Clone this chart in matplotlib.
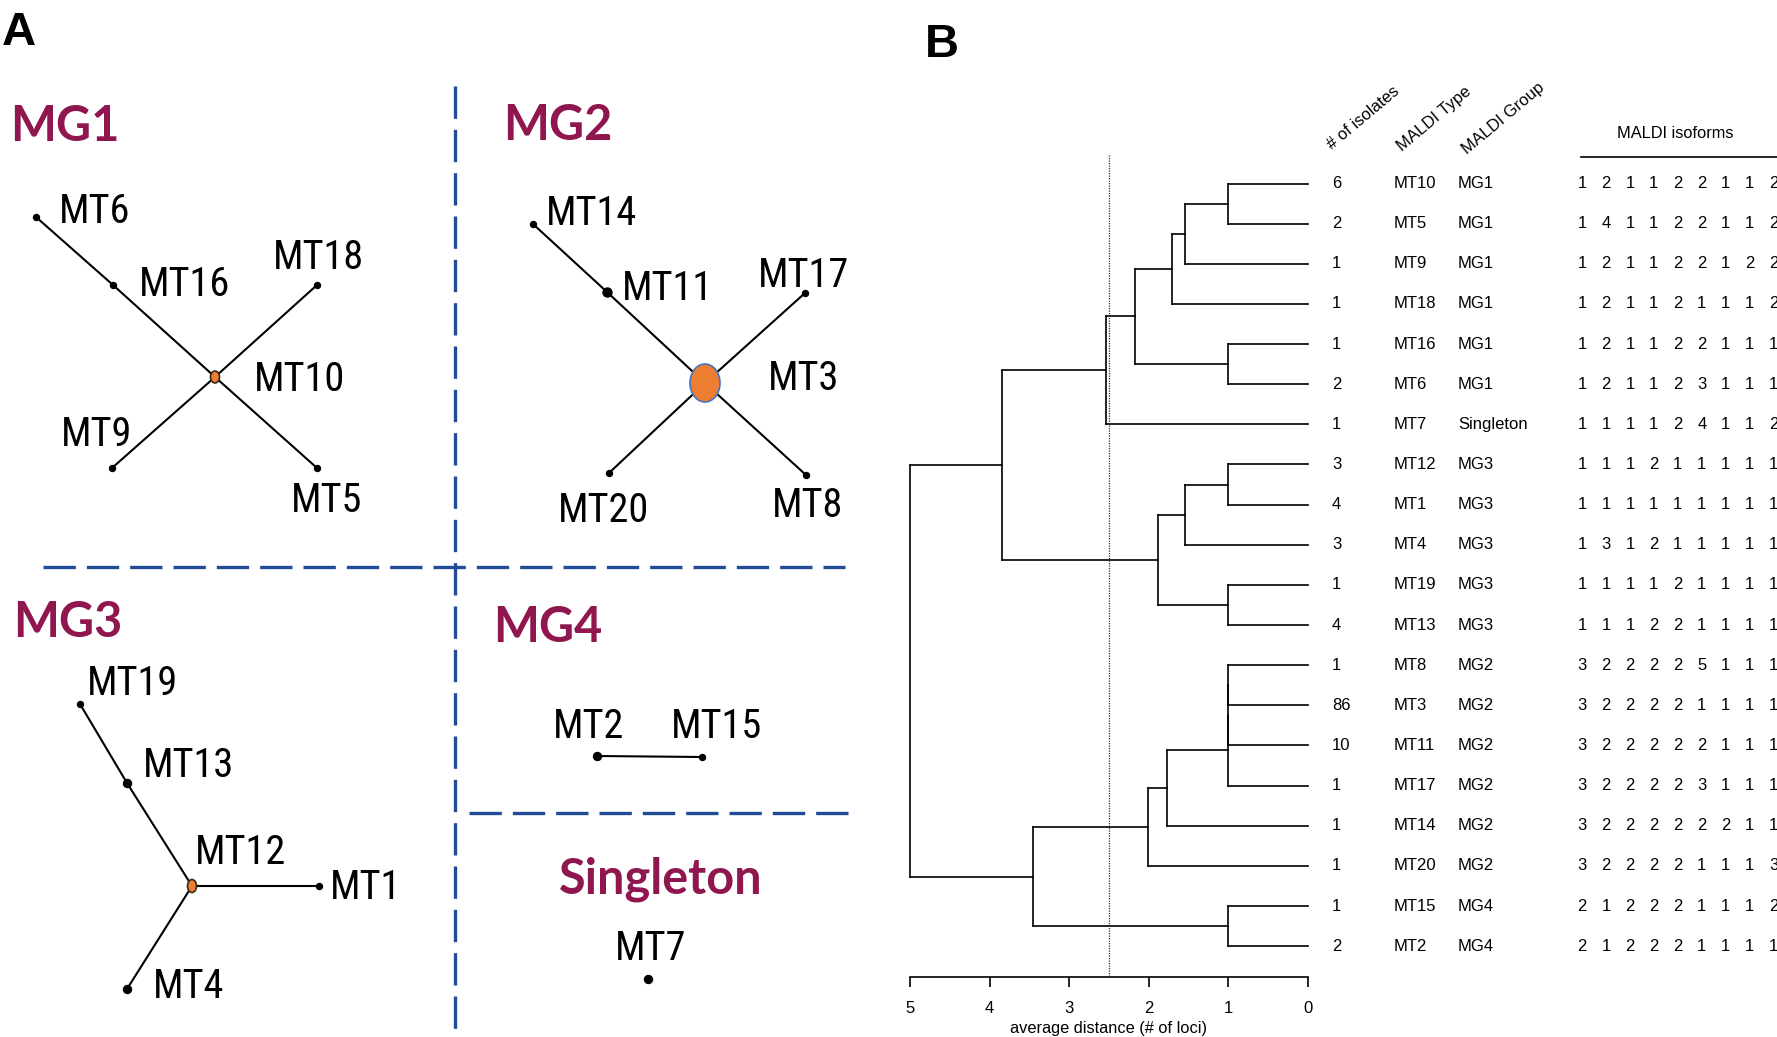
import numpy as np
import matplotlib.pyplot as plt
from matplotlib import font_manager
from matplotlib.patches import Ellipse
from matplotlib.transforms import blended_transform_factory

W, H = 1777, 1037

# ---------------- PANEL B DATA ----------------
leaves = ["MT10", "MT5", "MT9", "MT18", "MT16", "MT6", "MT7", "MT12", "MT1", "MT4",
          "MT19", "MT13", "MT8", "MT3", "MT11", "MT17", "MT14", "MT20", "MT15", "MT2"]
n_isolates = [6, 2, 1, 1, 1, 2, 1, 3, 4, 3, 1, 4, 1, 86, 10, 1, 1, 1, 1, 2]
maldi_group = ["MG1"] * 6 + ["Singleton"] + ["MG3"] * 5 + ["MG2"] * 6 + ["MG4"] * 2
isoforms = [
    [1, 2, 1, 1, 2, 2, 1, 1, 2],
    [1, 4, 1, 1, 2, 2, 1, 1, 2],
    [1, 2, 1, 1, 2, 2, 1, 2, 2],
    [1, 2, 1, 1, 2, 1, 1, 1, 2],
    [1, 2, 1, 1, 2, 2, 1, 1, 1],
    [1, 2, 1, 1, 2, 3, 1, 1, 1],
    [1, 1, 1, 1, 2, 4, 1, 1, 2],
    [1, 1, 1, 2, 1, 1, 1, 1, 1],
    [1, 1, 1, 1, 1, 1, 1, 1, 1],
    [1, 3, 1, 2, 1, 1, 1, 1, 1],
    [1, 1, 1, 1, 2, 1, 1, 1, 1],
    [1, 1, 1, 2, 2, 1, 1, 1, 1],
    [3, 2, 2, 2, 2, 5, 1, 1, 1],
    [3, 2, 2, 2, 2, 1, 1, 1, 1],
    [3, 2, 2, 2, 2, 2, 1, 1, 1],
    [3, 2, 2, 2, 2, 3, 1, 1, 1],
    [3, 2, 2, 2, 2, 2, 2, 1, 1],
    [3, 2, 2, 2, 2, 1, 1, 1, 3],
    [2, 1, 2, 2, 2, 1, 1, 1, 2],
    [2, 1, 2, 2, 2, 1, 1, 1, 1],
]
# merges (a, b, height); ids 0-19 are leaves, 20+ are previous merges
merges = [
    (0, 1, 1.0), (20, 2, 1.54), (21, 3, 1.71), (4, 5, 1.0), (22, 23, 2.17),
    (24, 6, 2.54), (7, 8, 1.0), (26, 9, 1.54), (10, 11, 1.0), (27, 28, 1.88),
    (25, 29, 3.85), (12, 13, 1.0), (31, 14, 1.0), (32, 15, 1.0), (33, 16, 1.77),
    (34, 17, 2.01), (18, 19, 1.0), (35, 36, 3.46), (30, 37, 5.0),
]
cut_height = 2.5
dist_ticks = [5, 4, 3, 2, 1, 0]

# ---------------- PANEL A DATA ----------------
net_nodes = ["MT6", "MT16", "MT10", "MT18", "MT9", "MT5",
             "MT14", "MT11", "MT3", "MT17", "MT20", "MT8",
             "MT19", "MT13", "MT12", "MT1", "MT4",
             "MT2", "MT15", "MT7"]
node_x = [36, 113, 215, 317, 112, 317, 533, 607, 705, 805, 609, 806,
          80, 127, 192, 319, 127, 597, 702, 648]
node_y = [217, 285, 377, 285, 468, 468, 224, 292, 383, 293, 473, 475,
          704, 783, 886, 886, 989, 756, 757, 979]
node_dot = [6, 6, 0, 6, 6, 6, 6, 9, 0, 6, 6, 6, 6, 8, 0, 6, 8, 8, 6, 8]
label_x = [59, 139, 254, 273, 61, 291, 546, 622, 768, 758, 558, 772,
           87, 143, 195, 330, 153, 553, 671, 615]
label_y = [223, 296, 391, 269, 446, 512, 225, 300, 390, 287, 522, 517,
           695, 777, 864, 899, 998, 738, 738, 960]
edges = [("MT6", "MT16"), ("MT16", "MT10"), ("MT10", "MT5"), ("MT9", "MT10"), ("MT10", "MT18"),
         ("MT14", "MT11"), ("MT11", "MT3"), ("MT3", "MT8"), ("MT20", "MT3"), ("MT3", "MT17"),
         ("MT19", "MT13"), ("MT13", "MT12"), ("MT12", "MT1"), ("MT12", "MT4"),
         ("MT2", "MT15")]
hub_names = ["MT10", "MT3", "MT12"]
hub_w = [9, 30, 9]
hub_h = [12, 38, 13]
hub_edge = ["#3a2a1a", "#4472C4", "#3a2a1a"]
group_titles = ["MG1", "MG2", "MG3", "MG4", "Singleton"]
title_x = [10, 503, 13, 493, 559]
title_y = [141, 140, 637, 642, 893]
sep_x = [(455, 455), (43, 845), (469, 850)]
sep_y = [(86, 1034), (567, 567), (813, 813)]

MAROON = "#8F164E"
BLUE = "#224C98"
ORANGE = "#ED7D31"
SANS = ["Liberation Sans", "DejaVu Sans"]


# pick a condensed sans face for the node labels, if one is installed
def narrow_font():
    order = ["liberation", "roboto", "noto", "open", "dejavu"]
    found = []
    for f in font_manager.fontManager.ttflist:
        key = (f.name + " " + f.fname).lower()
        if ("narrow" in key or "condensed" in key) and "semi" not in key \
                and "extra" not in key and "ultra" not in key \
                and f.style == "normal" and f.weight in (400, "normal", "regular"):
            rank = next((i for i, o in enumerate(order) if o in key), len(order))
            found.append((rank, f.fname))
    if found:
        return font_manager.FontProperties(fname=sorted(found)[0][1])
    return font_manager.FontProperties(family="DejaVu Sans")


NARROW = narrow_font()

fig = plt.figure(figsize=(W / 100, H / 100), dpi=100)

# overlay axes in pixel coordinates (y downwards)
ov = fig.add_axes([0, 0, 1, 1])
ov.set_xlim(0, W)
ov.set_ylim(H, 0)
ov.axis("off")

# panel letters
ov.text(2, 45, "A", fontsize=34, fontweight="bold", family=SANS, va="baseline")
ov.text(925, 57, "B", fontsize=34, fontweight="bold", family=SANS, va="baseline")

# dashed separators
for xs, ys in zip(sep_x, sep_y):
    ov.plot(xs, ys, color=BLUE, lw=2.4, linestyle=(0, (9.7, 3.3)), solid_capstyle="butt")

# network edges
pos = {n: (x, y) for n, x, y in zip(net_nodes, node_x, node_y)}
for a, b in edges:
    ov.plot([pos[a][0], pos[b][0]], [pos[a][1], pos[b][1]], color="black", lw=1.5, zorder=2)

# network nodes
for n, x, y, d in zip(net_nodes, node_x, node_y, node_dot):
    if d > 0:
        ov.plot(x, y, "o", color="black", markersize=d * 0.72, zorder=3)
for n, w, h, ec in zip(hub_names, hub_w, hub_h, hub_edge):
    ov.add_patch(Ellipse(pos[n], w, h, facecolor=ORANGE, edgecolor=ec, lw=1.2, zorder=4))

# node labels
for n, x, y in zip(net_nodes, label_x, label_y):
    ov.text(x, y, n, fontproperties=NARROW, fontsize=29, va="baseline", ha="left")

# group titles
for t, x, y in zip(group_titles, title_x, title_y):
    ov.text(x, y, t, fontsize=35, fontweight="bold", family=["Lato", "DejaVu Sans"],
            color=MAROON, va="baseline", ha="left")

# ---------------- DENDROGRAM ----------------
row0, row_step = 183.5, 40.14


def row(p):
    return (p - row0) / row_step


ax = fig.add_axes([910 / W, (H - 977) / H, 398 / W, (977 - 150) / H])
ax.set_xlim(5, 0)
ax.set_ylim(row(977), row(150))
ax.patch.set_alpha(0)

nodes = {i: (0.0, float(i)) for i in range(len(leaves))}
for k, (a, b, h) in enumerate(merges):
    ha, ya = nodes[a]
    hb, yb = nodes[b]
    ax.plot([ha, h], [ya, ya], color="black", lw=1.2, clip_on=False)
    ax.plot([hb, h], [yb, yb], color="black", lw=1.2, clip_on=False)
    ax.plot([h, h], [ya, yb], color="black", lw=1.2, clip_on=False)
    nodes[len(leaves) + k] = (h, (ya + yb) / 2)

ax.plot([cut_height, cut_height], [row(155), row(977)], color="#333333", lw=0.9,
        linestyle=(0, (1, 1)))

for s in ["left", "top", "right"]:
    ax.spines[s].set_visible(False)
ax.spines["bottom"].set_bounds(0, 5)
ax.spines["bottom"].set_linewidth(1.2)
ax.set_yticks([])
ax.set_xticks(dist_ticks)
ax.set_xticklabels([str(t) for t in dist_ticks], family=SANS)
ax.tick_params(axis="x", direction="out", length=7, width=1.2, labelsize=12, pad=10)
ax.set_xlabel("average distance (# of loci)", fontsize=11.75, family=SANS, labelpad=4)

# ---------------- TABLE ----------------
tr = blended_transform_factory(ov.transData, ax.transData)
iso_x = 1582 + 23.95 * np.arange(len(isoforms[0]))
for i, leaf in enumerate(leaves):
    ax.text(1332, i, str(n_isolates[i]), transform=tr, fontsize=12, family=SANS,
            ha="left", va="center", clip_on=False)
    ax.text(1394, i, leaf, transform=tr, fontsize=12, family=SANS,
            ha="left", va="center", clip_on=False)
    ax.text(1458, i, maldi_group[i], transform=tr, fontsize=12, family=SANS,
            ha="left", va="center", clip_on=False)
    for x, v in zip(iso_x, isoforms[i]):
        ax.text(x, i, str(v), transform=tr, fontsize=12, family=SANS,
                ha="center", va="center", clip_on=False)

for txt, x, y in [("# of isolates", 1332, 150), ("MALDI Type", 1402, 152), ("MALDI Group", 1467, 155)]:
    ov.text(x, y, txt, rotation=40, rotation_mode="anchor", fontsize=12, family=SANS,
            ha="left", va="baseline")
ov.text(1675, 134, "MALDI isoforms", fontsize=11.75, family=SANS, ha="center", va="center")
ov.plot([1581, W], [157, 157], color="black", lw=1.2)

fig.savefig("out.png", dpi=100)
